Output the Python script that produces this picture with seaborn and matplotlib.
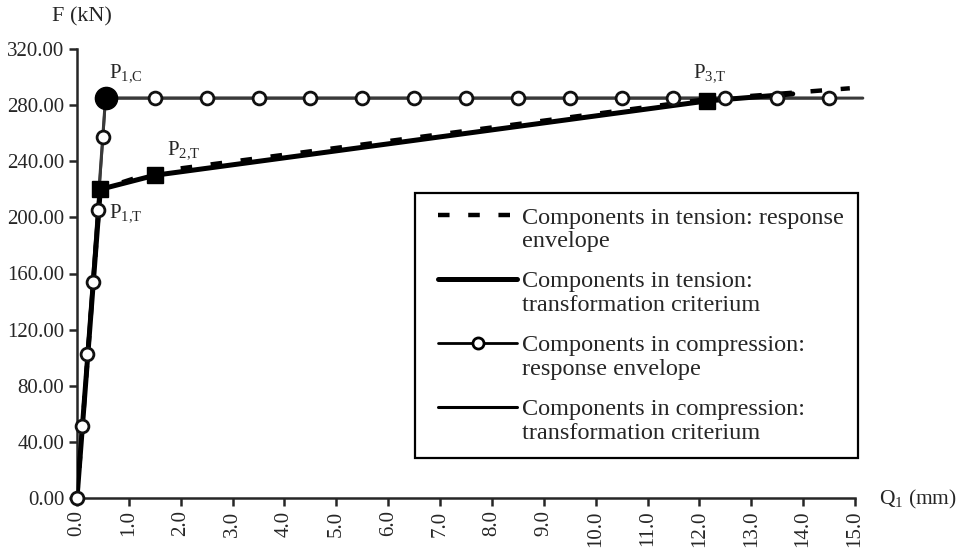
import numpy as np
import pandas as pd
import matplotlib
matplotlib.use("Agg")
import matplotlib.pyplot as plt
import seaborn as sns
from matplotlib.legend_handler import HandlerLine2D
from matplotlib.lines import Line2D

# ---- data ----
comp_env_x = [0.0, 0.1, 0.2, 0.3, 0.4, 0.5, 0.55, 1.5, 2.5, 3.5, 4.5, 5.5, 6.5, 7.5,
              8.5, 9.5, 10.5, 11.5, 12.5, 13.5, 14.5]
comp_env_y = [0.0, 51.4, 102.8, 154.2, 205.6, 257.0, 285.0, 285.0, 285.0, 285.0, 285.0,
              285.0, 285.0, 285.0, 285.0, 285.0, 285.0, 285.0, 285.0, 285.0, 285.0]
comp_env_marked = [True, True, True, True, True, True, False] + [True] * 14

comp_crit_x = [0.0, 0.55, 15.15]
comp_crit_y = [0.0, 285.0, 285.0]

tens_env_x = [0.0, 0.45, 1.5, 12.1, 14.9]
tens_env_y = [0.0, 220.0, 232.5, 284.0, 292.0]

tens_crit_x = [0.0, 0.45, 1.5, 12.15, 13.8]
tens_crit_y = [0.0, 220.0, 230.0, 283.0, 288.0]

pt_names = ["P$_{1{,}C}$", "P$_{1{,}T}$", "P$_{2{,}T}$", "P$_{3{,}T}$"]
pt_x = [0.55, 0.45, 1.5, 12.15]
pt_y = [285.0, 220.0, 230.0, 283.0]
pt_label_x = [0.62, 0.62, 1.73, 11.88]
pt_label_y = [303.0, 203.0, 248.0, 303.0]

x_ticks = list(np.arange(0, 16, 1.0))
y_ticks = [0, 40, 80, 120, 160, 200, 240, 280, 320]

legend_labels = ["Components in tension: response\nenvelope",
                 "Components in tension:\ntransformation criterium",
                 "Components in compression:\nresponse envelope",
                 "Components in compression:\ntransformation criterium"]

# ---- style ----
sns.set_style("ticks")
plt.rcParams["font.family"] = ["Liberation Serif", "DejaVu Serif"]
plt.rcParams["mathtext.fontset"] = "custom"
plt.rcParams["mathtext.rm"] = "Liberation Serif"
plt.rcParams["mathtext.it"] = "Liberation Serif"

fig = plt.figure(figsize=(9.6, 5.48), dpi=100)
ax = fig.add_axes([77 / 960, 50 / 548, (855 - 77) / 960, (498 - 49) / 548])

df_ce = pd.DataFrame({"x": comp_env_x, "y": comp_env_y, "m": comp_env_marked})
df_cc = pd.DataFrame({"x": comp_crit_x, "y": comp_crit_y})
df_te = pd.DataFrame({"x": tens_env_x, "y": tens_env_y})
df_tc = pd.DataFrame({"x": tens_crit_x, "y": tens_crit_y})

grey = "#3a3a3a"
sns.lineplot(data=df_cc, x="x", y="y", ax=ax, sort=False, estimator=None,
             color=grey, lw=2.2, clip_on=False, zorder=2)
sns.lineplot(data=df_ce, x="x", y="y", ax=ax, sort=False, estimator=None,
             color=grey, lw=2.0, zorder=2)
sns.lineplot(data=df_te, x="x", y="y", ax=ax, sort=False, estimator=None,
             color="black", lw=3.2, dashes=[(2.6, 4.2)], style=[0] * len(df_te),
             legend=False, zorder=3)
sns.lineplot(data=df_tc, x="x", y="y", ax=ax, sort=False, estimator=None,
             color="black", lw=3.6, zorder=3)
sns.scatterplot(data=df_ce[df_ce["m"]], x="x", y="y", ax=ax, marker="o", s=85,
                facecolor="white", edgecolor="#111111", linewidth=2.0, zorder=4,
                clip_on=False)
ax.plot(pt_x[0], pt_y[0], "o", ms=16, color="black", zorder=5)
ax.plot(pt_x[1:], pt_y[1:], "s", ms=11, color="black", lw=0, zorder=5)

for name, lx, ly in zip(pt_names, pt_label_x, pt_label_y):
    ax.text(lx, ly, name, fontsize=15, ha="left", va="center")

ax.set_xlim(0, 15)
ax.set_ylim(0, 320)
ax.set_xticks(x_ticks)
ax.set_xticklabels([f"{v:.1f}" for v in x_ticks], rotation=90, fontsize=15)
ax.set_yticks(y_ticks)
ax.set_yticklabels([f"{v:.2f}" for v in y_ticks], fontsize=15)
ax.set_xlabel("")
ax.set_ylabel("")
sns.despine(ax=ax)
for s in ["left", "bottom"]:
    ax.spines[s].set_linewidth(1.8)
ax.tick_params(axis="both", direction="out", length=6, width=1.8, pad=3)

fig.text(82 / 960, 1 - 17 / 548, "F (kN)", fontsize=16, ha="center", va="center")
fig.text(879 / 960, 1 - 499 / 548, "Q$_1$ (mm)", fontsize=15.5, ha="left", va="center")


class FirstLineHandler(HandlerLine2D):
    """Line handle aligned with the first line of a two-line label."""

    def __init__(self, dy, xshift, **kw):
        super().__init__(**kw)
        self._dy = dy
        self._xshift = xshift

    def create_artists(self, legend, orig_handle, xdescent, ydescent, width, height,
                       fontsize, trans):
        arts = super().create_artists(legend, orig_handle, xdescent, ydescent, width,
                                      height, fontsize, trans)
        for a in arts:
            xd = np.asarray(a.get_xdata(), dtype=float)
            yd = np.asarray(a.get_ydata(), dtype=float)
            lo, hi = xd.min(), xd.max()
            if hi > lo:
                xd = lo + self._xshift + (xd - lo) * (hi - lo - self._xshift) / (hi - lo)
            else:
                xd = xd + self._xshift / 2
            a.set_xdata(xd)
            a.set_ydata(yd + self._dy)
        return arts


FS = 17.5
LS = 1.15
handles = [
    Line2D([], [], color="black", lw=3.2, dashes=(2.6, 4.2)),
    Line2D([], [], color="black", lw=3.6),
    Line2D([], [], color="black", lw=2.0, marker="o", ms=8, mfc="white", mew=2.0),
    Line2D([], [], color="black", lw=2.2),
]
hmap = {h: FirstLineHandler(dy=0.5 * FS * LS, xshift=0.35 * FS) for h in handles}
leg = ax.legend(handles, legend_labels, loc="upper left",
                bbox_to_anchor=((415 - 77) / (855 - 77), 1 - (193 - 49) / (498 - 49)),
                fontsize=FS, frameon=True, fancybox=False, edgecolor="black",
                framealpha=1, handlelength=3.6, handletextpad=0.2,
                labelspacing=0.8, borderpad=0.6, borderaxespad=0, handler_map=hmap)
for t in leg.get_texts():
    t.set_linespacing(LS)
leg.get_frame().set_linewidth(1.6)

fig.savefig("out.png", dpi=100)
